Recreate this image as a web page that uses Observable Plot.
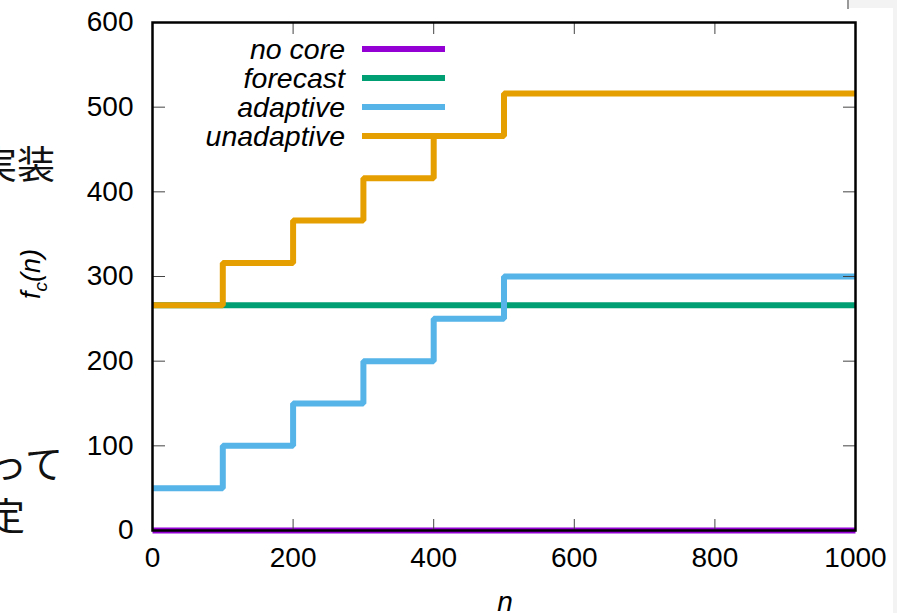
<!DOCTYPE html>
<html>
<head>
<meta charset="utf-8">
<script src="https://cdn.jsdelivr.net/npm/d3@7"></script>
<script src="https://cdn.jsdelivr.net/npm/@observablehq/plot@0.6"></script>
<style>
  html, body { margin: 0; padding: 0; background: #fff; }
  #wrap { position: relative; width: 897px; height: 613px; overflow: hidden; background: #fff; font-family: "Liberation Sans", Arial, sans-serif; }
  #chart { position: absolute; left: 0; top: 0; }
  .jp { position: absolute; font-family: "Noto Sans CJK JP", sans-serif; font-size: 38px; color: #111; white-space: nowrap; line-height: 1; }
  #legend { position: absolute; left: 0; top: 0; width: 897px; height: 613px; pointer-events: none; }
  .ltext { position: absolute; font-style: italic; font-size: 28.5px; color: #000; white-space: nowrap; line-height: 30px; }
  .lline { position: absolute; height: 6px; }
  #ylab { position: absolute; left: 34px; top: 274px; transform: translate(-50%, -50%) rotate(-90deg); font-style: italic; font-size: 27px; white-space: nowrap; color: #000; line-height: 1; }
  #xlab { position: absolute; left: 505px; top: 588px; transform: translateX(-50%); font-style: italic; font-size: 28px; color: #000; line-height: 1; }
</style>
</head>
<body>
<div id="wrap">
  <div class="jp" style="right: 842px; top: 143px;">実装</div>
  <div class="jp" style="right: 834px; top: 443px;">って</div>
  <div class="jp" style="right: 872px; top: 495px;">定</div>
  <div style="position:absolute; left:849px; top:0; width:48px; height:8px; background:#f3f3f3;"></div>
  <div style="position:absolute; left:893px; top:0; width:4px; height:613px; background:#f3f3f3;"></div>
  <div style="position:absolute; left:847px; top:0; width:2px; height:9px; background:#999;"></div>
  <div id="chart"></div>
  <div id="legend"></div>
  <div id="ylab">f<sub style="font-size:19px">c</sub>(n)</div>
  <div id="xlab">n</div>
</div>
<script>
// ---- data ----
const seriesNames = ["no core", "forecast", "adaptive", "unadaptive"];
const seriesColors = ["#9400d3", "#009e73", "#56b4e9", "#e69f00"];

const flatN = [0, 1000];
const noCore = [0, 0];
const forecast = [266, 266];

const stepN = [0, 100, 200, 300, 400, 500, 1000];
const adaptive = [50, 100, 150, 200, 250, 300, 300];
const unadaptive = [266, 316, 366, 416, 466, 516, 516];

const xTicks = [0, 200, 400, 600, 800, 1000];
const yTicks = [0, 100, 200, 300, 400, 500, 600];

// ---- build tables ----
const rows = [];
flatN.forEach((n, i) => rows.push({series: "no core", n, v: noCore[i]}));
flatN.forEach((n, i) => rows.push({series: "forecast", n, v: forecast[i]}));
stepN.forEach((n, i) => rows.push({series: "adaptive", n, v: adaptive[i]}));
stepN.forEach((n, i) => rows.push({series: "unadaptive", n, v: unadaptive[i]}));

const color = s => seriesColors[seriesNames.indexOf(s)];

const lineMarks = seriesNames.map(s =>
  Plot.line(rows.filter(d => d.series === s), {
    x: "n", y: "v", curve: "step-after",
    stroke: color(s), strokeWidth: 6, strokeLinejoin: "miter", strokeLinecap: "butt"
  })
);

const tickStyle = {stroke: "#444", strokeWidth: 1, text: null, label: null};
const fmt = d => String(d);

const chart = Plot.plot({
  width: 897,
  height: 613,
  marginLeft: 152,
  marginRight: 42,
  marginTop: 22,
  marginBottom: 83,
  style: {fontFamily: "'Liberation Sans', Arial, sans-serif", fontSize: "28px", background: "transparent", color: "#000"},
  x: {domain: [0, 1000]},
  y: {domain: [0, 600]},
  marks: [
    ...lineMarks,
    Plot.axisX(xTicks, {anchor: "bottom", tickSize: 0, tickPadding: 17, tickFormat: fmt, label: null, fill: "#000"}),
    Plot.axisY(yTicks, {anchor: "left", tickSize: 0, tickPadding: 19, tickFormat: fmt, label: null, fill: "#000"}),
    Plot.axisX(xTicks, {anchor: "bottom", tickSize: -11, ...tickStyle}),
    Plot.axisX(xTicks, {anchor: "top", tickSize: -11, ...tickStyle}),
    Plot.axisY(yTicks, {anchor: "left", tickSize: -13, ...tickStyle}),
    Plot.axisY(yTicks, {anchor: "right", tickSize: -13, ...tickStyle}),
    Plot.frame({stroke: "#000", strokeWidth: 2.5})
  ]
});
document.getElementById("chart").appendChild(chart);

// ---- legend ----
const legend = document.getElementById("legend");
const rowCenters = [49, 78, 107, 136];
seriesNames.forEach((s, i) => {
  const t = document.createElement("div");
  t.className = "ltext";
  t.textContent = s;
  t.style.right = (897 - 345) + "px";
  t.style.top = (rowCenters[i] - 15) + "px";
  legend.appendChild(t);
  const l = document.createElement("div");
  l.className = "lline";
  l.style.left = "362px";
  l.style.width = "83px";
  l.style.top = (rowCenters[i] - 3) + "px";
  l.style.background = color(s);
  legend.appendChild(l);
});
</script>
</body>
</html>
